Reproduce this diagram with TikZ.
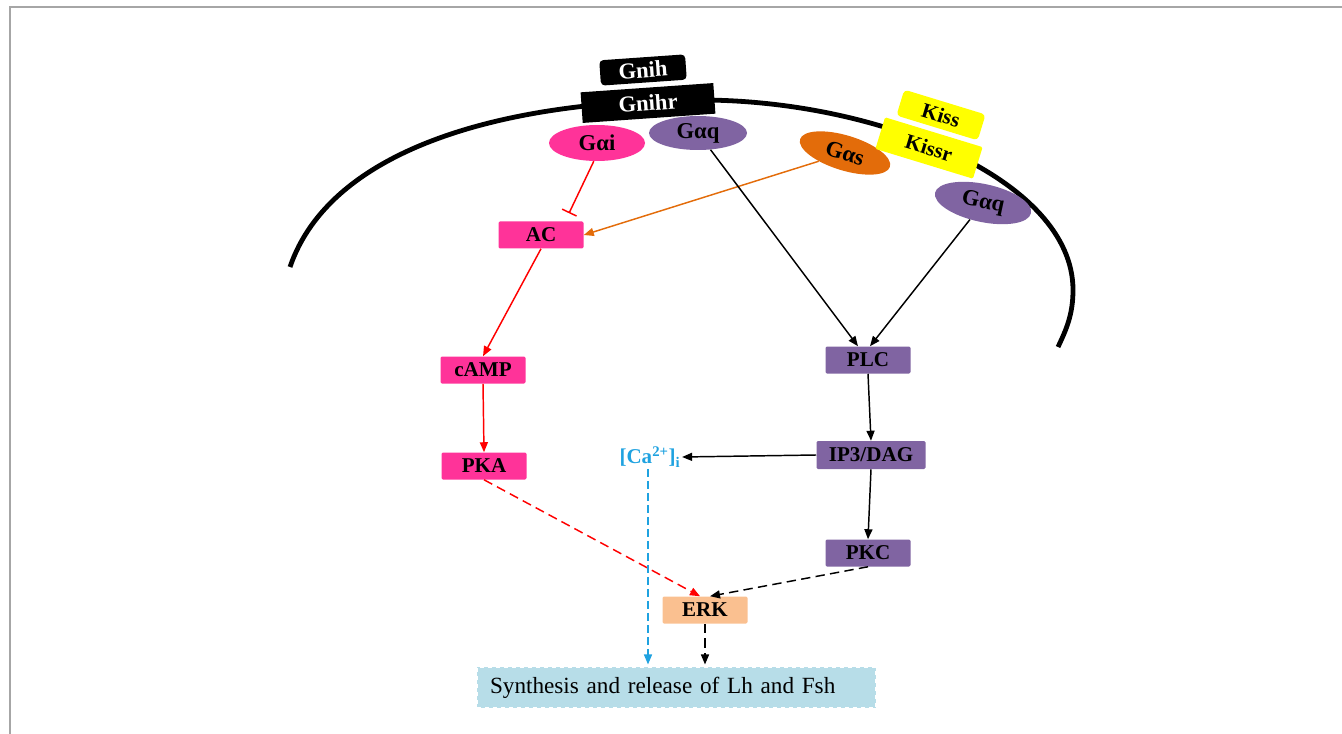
\documentclass[tikz,border=0pt]{standalone}
\usepackage{fontspec}
\setmainfont{Liberation Serif}
\usetikzlibrary{shapes.geometric,arrows.meta,calc}
\definecolor{pinkc}{HTML}{FF3399}
\definecolor{purplec}{HTML}{8064A2}
\definecolor{orangec}{HTML}{E36C0A}
\definecolor{yellowc}{HTML}{FFFF00}
\definecolor{peachc}{HTML}{FAC090}
\definecolor{lightb}{HTML}{B7DDE8}
\definecolor{cablue}{HTML}{1FA2E0}
\definecolor{redc}{HTML}{FF0000}
\begin{document}
\begin{tikzpicture}[x=0.75pt,y=-0.75pt,
  lbl/.style={font=\fontsize{15.8}{18}\selectfont\bfseries},
  big/.style={font=\fontsize{17}{19}\selectfont\bfseries},
  box/.style={rectangle, lbl, minimum width=63.75pt, minimum height=20.25pt, inner sep=0pt, rounded corners=1pt},
  ell/.style={ellipse, big, inner sep=0pt},
  arr/.style={-{Triangle[length=7.5pt,width=6pt]}, line width=1.1pt},
  dsh/.style={dash pattern=on 7pt off 4pt}
]
\useasboundingbox (0,0) rectangle (1342,734);
\draw[gray!70, line width=1pt] (10,734) -- (10,7) -- (1342,7);
% membrane
\draw[line width=3.6pt] (290,267) .. controls (330,150) and (500,100) .. (700,100)
  .. controls (880,100) and (1073,180) .. (1073,290)
  .. controls (1073,315) and (1066,330) .. (1058,347);
% receptors
\node[fill=black, text=white, big, rounded corners=3pt, minimum width=64.5pt, minimum height=19pt, inner sep=0pt, rotate=4] (gnih) at (643,70) {Gnih};
\node[fill=black, text=white, big, minimum width=99.75pt, minimum height=23pt, inner sep=0pt, rotate=4] (gnihr) at (648,103) {Gnihr};
\node[ell, fill=pinkc, minimum width=72pt, minimum height=27pt] (gai) at (597,143) {Gαi};
\node[ell, fill=purplec, minimum width=73.5pt, minimum height=25.5pt] (gaq1) at (698,133) {Gαq};
\node[fill=yellowc, lbl, rounded corners=3pt, minimum width=63.75pt, minimum height=20.25pt, inner sep=0pt, rotate=-17] (kiss) at (941,115) {Kiss};
\node[ell, fill=orangec, minimum width=70.5pt, minimum height=26.25pt, rotate=-17] (gas) at (845,153) {Gαs};
\node[fill=yellowc, lbl, rounded corners=1pt, minimum width=76.5pt, minimum height=24.75pt, inner sep=0pt, rotate=-17] (kissr) at (929,148) {Kissr};
\node[ell, fill=purplec, minimum width=73.5pt, minimum height=28.5pt, rotate=-12] (gaq2) at (983,203) {Gαq};
% boxes
\node[box, fill=pinkc] (ac) at (541,235) {AC};
\node[box, fill=pinkc] (camp) at (483,370) {cAMP};
\node[box, fill=pinkc] (pka) at (484,466) {PKA};
\node[box, fill=purplec] (plc) at (868,360) {PLC};
\node[box, fill=purplec, minimum width=81.75pt, minimum height=21pt] (ip3) at (871,455) {IP3/DAG};
\node[box, fill=purplec] (pkc) at (868,553) {PKC};
\node[box, fill=peachc] (erk) at (705,610) {ERK};
\node[lbl, text=cablue, inner sep=1pt] (ca) at (650,457) {[Ca\textsuperscript{2+}]\textsubscript{i}};
\node[rectangle, fill=lightb, draw=white, dashed, line width=0.8pt, minimum height=30.75pt, text width=279.75pt, inner xsep=9.75pt, align=left, font=\fontsize{17.4}{21}\selectfont] (synth) at (676.5,687.5) {Synthesis and release of Lh and Fsh};
% connectors
\draw[redc, line width=1.1pt, -{Bar[width=12pt]}] (gai.-100) -- ($(ac.north)+(28,-8)$);
\draw[arr, orangec] (gas) -- (ac.east);
\draw[arr] (gaq1) -- ($(plc.north)+(-10,0)$);
\draw[arr] (gaq2) -- ($(plc.north)+(2,0)$);
\draw[arr, redc] (ac.south) -- (camp.north);
\draw[arr, redc] (camp.south) -- (pka.north);
\draw[arr, redc, dsh] (pka.south) -- ($(erk.north)+(-5,0)$);
\draw[arr, dsh] (pkc.south) -- ($(erk.north)+(5,0)$);
\draw[arr] (plc.south) -- (ip3.north);
\draw[arr] (ip3.west) -- (ca.east);
\draw[arr] (ip3.south) -- (pkc.north);
\draw[arr, cablue, dash pattern=on 6pt off 3pt] ($(ca.south)+(-2,0)$) -- ($(ca.south |- synth.north)+(-2,-2)$);
\draw[arr, dsh] (erk.south) -- ($(erk.south |- synth.north)+(0,-2)$);
\end{tikzpicture}
\end{document}
